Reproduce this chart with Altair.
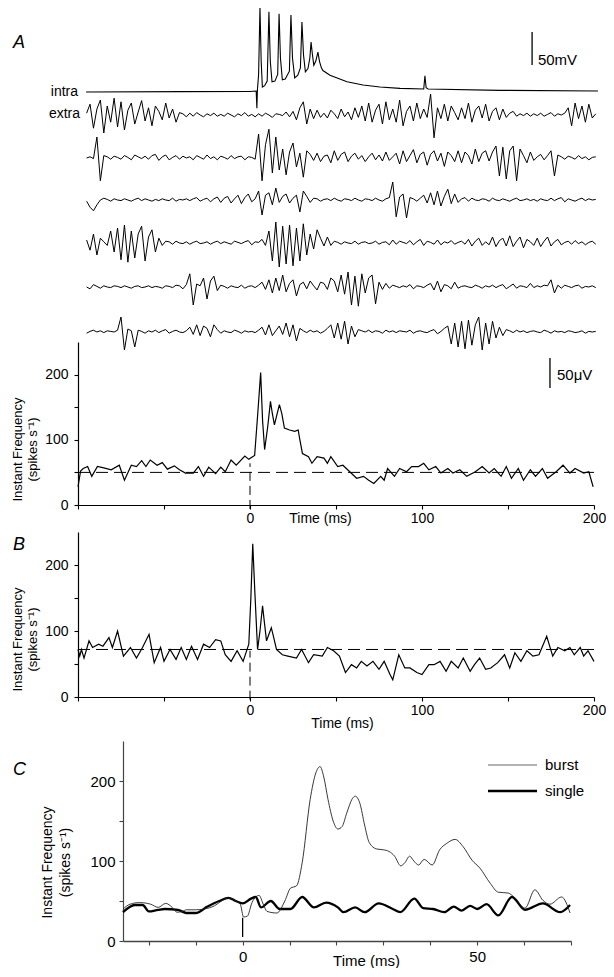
import altair as alt
import pandas as pd

FONT = "Liberation Sans"
W, H = 598, 960

# ---------------- intracellular trace (ms, mV) ----------------
intra_t = [-95.3, -40, 0, 3.6, 4.0, 4.3, 5.0, 5.8, 6.5, 7.2, 8.5, 10.0, 11.0, 11.8, 12.8, 14.5,
           16.1, 16.9, 17.7, 18.8, 20.5, 22.9, 23.8, 24.7, 26.0, 27.8, 29.3, 30.2, 31.1, 32.2,
           33.7, 34.8, 35.5, 36.3, 37.1, 38.2, 39.5, 40.4, 41.5, 42.4, 46.5, 56.4, 65.7, 75.6,
           87.2, 101.0, 101.7, 102.4, 103.5, 145, 202.3]
intra_mv = [-66.5, -66, -65.8, -65, -91, -64, -40, 62, -20, -59, -57, -50, 55, -20, -51, -50,
            -40, 52, -15, -48, -47, -35, 50, -15, -45, -41, -30, 39.5, -10, -36,
            -31, -15, 9, -10, -26, -20, -6, -20, -30, -34, -41, -51, -56, -59,
            -61, -62, -42, -60, -62, -64, -65]

# ---------------- extracellular traces (uV), sampled every 2 ms from -95 ms ----------------
extra_t = [-95 + 2 * k for k in range(149)]
extra1 = [3, 18, -22, 10, 25, -30, 15, -12, 28, -20,
          22, -25, 8, 20, -15, 5, 24, -10, 12, -18,
          15, 6, -8, 20, -5, 10, -12, 4, 2, -3,
          3, -2, 4, 0, -3, 2, -1, 3, -2, 1,
          -2, 3, 0, -3, 2, -1, 4, -2, 1, -3,
          2, -2, 3, 0, -4, 2, 1, -1, 5, -3,
          6, -8, 12, 22, -15, 10, -6, 8, -4, 3,
          -5, 8, 2, -6, 10, -3, 5, -8, 12, -4,
          15, -10, 20, -12, 8, 18, -15, 22, -8, 10,
          -12, 25, -18, 6, 15, -10, 20, -6, 10, -4,
          35, -38, 12, -6, 18, -10, 15, 4, -8, 12,
          -6, 20, -12, 8, 15, -5, 18, -10, 6, 12,
          -8, 10, -4, 3, 6, -2, 2, -1, 3, -2,
          2, -1, 3, -2, 1, 4, -2, 2, 0, 3,
          12, -18, 20, -6, 15, -12, 18, -5, 2]
extra2 = [0, 2, -1, 35, -38, 4, 2, -2, 3, 1,
          -2, 4, 1, -3, 5, 2, -1, 3, -2, 4,
          6, -4, 2, 5, -3, 1, 4, -2, 3, 0,
          2, -3, 4, 1, -2, 5, -1, 2, -3, 3,
          1, -2, 4, -1, 2, 3, -3, 2, 1, -2,
          40, -38, 22, 48, -25, 35, -20, 15, -28, 10,
          25, -15, 8, -32, 12, 6, -4, 8, -6, 3,
          5, -8, 12, -4, 6, 10, -6, 3, 8, -2,
          4, -6, 2, 8, -3, 5, -5, 10, -4, 2,
          8, -10, 12, -6, 4, 14, -8, 6, 10, -12,
          6, 12, -5, 8, -14, 10, 4, -6, 12, -8,
          10, 4, -10, 15, -6, 8, 12, -5, 10, 20,
          -30, 18, -35, 12, 20, -38, 15, 4, -8, 10,
          -4, 2, 6, -3, 4, 12, -30, 5, 2, -2,
          3, 1, -2, 4, -1, 2, -3, 1, 2]
extra3 = [-2, -12, -18, -8, 0, 3, 1, -2, 2, 0,
          -1, 2, 0, -2, 1, 3, -1, 2, 0, -2,
          1, -1, 2, 0, -1, 3, -2, 1, 0, 2,
          -1, 2, 4, -2, 1, 3, -3, 2, 5, -4,
          3, 6, -5, 2, 8, -6, 4, 10, -3, 2,
          15, -25, 8, 12, -8, 20, -4, 6, 10, -5,
          3, 8, -20, 15, 6, -4, 3, 2, -2, 1,
          2, -1, 3, 0, -2, 2, 1, -1, 3, 0,
          -2, 2, 1, -1, 3, 0, -2, 2, 4, 30,
          -28, 5, 10, -30, 4, 2, -2, 3, 8, -5,
          12, -8, 15, -10, 6, 18, -6, 10, -4, 2,
          4, -2, 3, 0, -1, 2, 1, -2, 3, 0,
          -1, 2, 0, -2, 1, 3, -1, 0, 2, -1,
          1, -2, 2, 0, -1, 3, -1, 2, 4, -3,
          2, 0, -2, 1, 3, -1, 2, 0, 1]
extra4 = [5, -12, 15, -20, 8, 2, -4, 20, -15, 25,
          -28, 30, -32, 20, -25, 15, 28, -30, 10, 22,
          -15, 8, -4, 3, 2, -2, 3, 0, -1, 2,
          -2, 1, 3, -1, 0, 2, -2, 1, 3, -1,
          2, 0, -2, 3, 1, -1, 2, 4, -3, 2,
          1, 6, -4, 20, -30, 35, -40, 28, -35, 30,
          -38, 25, -30, 32, -20, 15, -10, 22, 8, -5,
          10, -4, 3, 1, -2, 2, 0, -1, 3, -2,
          1, 2, -1, 0, 3, -2, 1, 2, -3, 5,
          -2, 3, 1, -1, 4, -3, 2, 6, -4, 3,
          1, -2, 5, -3, 2, 0, 4, -2, 1, 3,
          -2, 6, -5, 3, 8, -4, 2, -3, 10, -6,
          4, 8, -5, 12, -6, 3, 10, -8, 6, 2,
          -4, 8, -6, 3, 10, -5, 2, 6, -3, 1,
          3, -2, 4, -1, 2, -3, 1, 3, -2]
extra5 = [0, -3, 4, 1, -2, 2, 0, -1, 2, 1,
          -1, 2, 0, -2, 1, 2, -1, 0, 2, -1,
          1, 0, -2, 2, 1, -1, 3, 2, -3, 4,
          22, -30, 5, 2, 15, -20, 10, 18, -6, 3,
          1, -2, 2, 0, -1, 3, -2, 1, 2, -1,
          3, 8, -4, 12, -10, 15, -6, 20, -8, 6,
          12, -15, 4, 8, -3, 10, 2, -5, 8, 6,
          -4, 15, 10, -8, 20, -12, 25, -30, 18, -32,
          22, -10, 15, 20, -28, 8, -4, 6, -2, 3,
          1, -1, 2, 0, 4, -3, 2, 1, -1, 3,
          6, -5, 10, -8, 4, 2, -3, 8, -2, 1,
          2, 0, -1, 3, 1, -2, 2, 0, 3, -1,
          2, 4, -3, 1, 5, -2, 2, 1, -1, 6,
          -1, 2, 0, 3, 2, 12, -10, 3, -2, 3,
          1, -1, 2, 3, -2, 1, 0, 2, -1]
extra6 = [-2, 1, 3, 0, 2, -1, 2, 1, 0, 3,
          25, -30, 5, 2, -25, 3, 1, -2, 2, 0,
          3, -1, 2, 4, -2, 1, 3, 0, -1, 2,
          8, -4, 12, -6, 10, 6, -8, 12, 4, -2,
          2, 0, -1, 3, 1, -2, 2, 0, 1, -1,
          3, 8, -5, 12, -6, 2, 10, -4, 15, -8,
          12, -15, 6, 2, -1, 3, 0, 2, -2, 1,
          6, 12, -10, 15, -12, 18, -20, 10, -8, 4,
          2, 0, 3, -1, 2, 1, -2, 3, 0, 2,
          -1, 2, 1, 0, 3, -2, 1, 2, 0, -1,
          2, 4, -3, 1, 6, 10, -20, 15, -25, 18,
          -28, 20, -22, 12, 25, -30, 15, -20, 18, -10,
          8, -6, 4, 2, -1, 3, 0, 2, -1, 1,
          2, 0, -1, 3, 1, -2, 2, 0, 1, -1,
          2, 1, -1, 0, 2, -2, 1, 0, 1]
extra_rows = [extra1, extra2, extra3, extra4, extra5, extra6]

# ---------------- panel A instant frequency ----------------
freqA_t = [-100, -98.5, -97, -94.4, -92, -88.7, -85, -80.7, -76, -73,
           -69, -66, -63, -60.5, -58, -54, -51, -48, -44, -41,
           -37.5, -33, -30, -27, -24, -20, -17, -14.4, -11, -8,
           -3, -0.7, 1.5, 2.7, 4.5, 6.2, 7.3, 8.5, 10.3, 11.9,
           13, 14.2, 15.8, 17.1, 18.5, 20, 23, 26, 28, 29,
           30.5, 34, 36, 39, 43, 45, 47, 51, 54, 58,
           62, 66, 69, 72, 76, 78, 80, 84, 87, 91,
           94, 98, 101, 104, 108, 111, 115, 118, 122, 126,
           131, 135, 139, 142, 146, 149, 152, 156, 159, 163,
           166, 170, 173, 178, 182, 186, 189, 194, 197, 199.5]
freqA_v = [28, 52, 56, 59, 44, 59, 57, 54, 61, 38,
           61, 59, 68, 59, 69, 61, 65, 55, 60, 54,
           49, 49, 59, 44, 58, 48, 58, 51, 69, 61,
           75, 70, 74, 76, 140, 203, 130, 85, 120, 159,
           140, 123, 140, 154, 140, 118, 115, 113, 115, 100,
           79, 74, 64, 74, 72, 64, 74, 59, 61, 51,
           41, 44, 38, 33, 44, 38, 56, 44, 56, 51,
           59, 59, 64, 54, 59, 49, 56, 49, 54, 44,
           51, 59, 49, 56, 44, 59, 41, 56, 38, 54,
           44, 56, 41, 51, 61, 49, 56, 49, 51, 28]

# ---------------- panel B instant frequency ----------------
freqB_t = [-100, -99, -98, -96.5, -93.6, -91.5, -88, -85.5, -82, -80,
           -77, -73.6, -69.5, -66, -62.5, -58.7, -55.7, -52, -50, -46.5,
           -43, -40, -37, -34, -30.5, -27, -23.5, -20, -17, -14.4,
           -11, -7.5, -4, -0.7, 0.5, 1.6, 2.8, 4.4, 5.8, 7.3,
           8.5, 9.6, 11, 12.4, 13.8, 15.4, 18.8, 22, 27, 30,
           34, 37, 42, 45, 48.6, 52, 55.5, 59, 62, 64.7,
           68, 71.5, 75, 78, 81.4, 83, 86.5, 90, 93, 97,
           100, 104, 107, 110.5, 114, 117, 121, 124, 128, 130.5,
           133.5, 137, 140, 144, 148, 151, 154, 157.5, 161, 164.5,
           168, 172.5, 176, 179, 183, 186, 188.5, 192, 194, 196.5,
           200]
freqB_v = [72, 62, 72, 59, 85, 75, 80, 77, 90, 75,
           100, 62, 75, 59, 75, 95, 52, 75, 54, 72,
           57, 75, 57, 77, 57, 80, 75, 87, 85, 64,
           54, 70, 54, 80, 150, 232, 160, 72, 100, 138,
           110, 85, 95, 105, 90, 72, 64, 62, 59, 72,
           52, 64, 62, 75, 70, 62, 37, 49, 44, 54,
           47, 54, 42, 54, 34, 26, 64, 44, 44, 37,
           34, 49, 49, 54, 39, 54, 44, 59, 39, 49,
           59, 42, 44, 52, 64, 44, 67, 54, 70, 62,
           64, 92, 62, 75, 70, 75, 64, 75, 62, 70,
           54]

# ---------------- panel C ----------------
burst_t = [-25.5, -24, -22, -19.6, -18, -16.4, -15, -14, -12.8, -12,
           -10, -8.2, -6, -4.5, -3, -1.5, -0.5, 0.2, 1, 2,
           2.8, 3.5, 4.4, 5.2, 7.3, 9, 10.2, 11.5, 12.7, 14.4,
           15.6, 16.5, 17.3, 18.2, 19.3, 20.3, 21.2, 22.2, 23.4, 24,
           25, 26, 27, 28.6, 30, 31.2, 32.4, 33.7, 34.6, 35.6,
           36.5, 37.5, 38.7, 40.4, 42, 43.5, 45.3, 47, 48.9, 50.6,
           52.8, 54.5, 56.6, 58, 60.2, 62.3, 64, 65.5, 68, 69.8]
burst_v = [40, 46, 48, 46, 42, 47, 42, 36, 37, 39,
           39, 40, 44, 50, 54, 50, 46, 30, 31, 48,
           55, 57, 46, 37, 35, 50, 66, 69, 98, 177,
           210, 218, 205, 177, 150, 140, 143, 160, 178, 181,
           172, 145, 123, 115, 114, 112, 106, 94, 98, 106,
           100, 95, 102, 95, 114, 122, 127, 118, 101, 91,
           72, 61, 60, 54, 41, 64, 51, 46, 55, 35]
single_t = [-25.5, -23, -21.3, -20, -18, -16.6, -13.8, -12, -10, -7.5,
            -5, -3, -1.5, 0, 1.8, 2.8, 3.9, 6, 7.9, 10.2,
            12.7, 15.2, 17.8, 20.3, 21.5, 24, 26, 29, 32, 33.6,
            36.6, 38.5, 40.6, 43, 45, 46.7, 48.5, 50, 52, 54.5,
            57.4, 60.2, 64, 67.7, 69.8]
single_v = [36, 45, 45, 37, 39, 40, 39, 35, 35, 43,
            50, 54, 50, 47, 53, 55, 42, 50, 40, 40,
            55, 42, 48, 42, 36, 42, 36, 47, 40, 36,
            53, 41, 40, 36, 43, 38, 44, 40, 46, 32,
            55, 39, 47, 36, 45]

# reference lines / scale bars (data units)
BASE_A = 50
BASE_B = 72
ZERO_A = [-6, 64]
ZERO_B = [-4, 70]
ZERO_C = [5, 29]
MV_BAR_T, MV_BAR = 164.0, [-25.6, 24.4]
MV_TXT_T, MV_TXT_Y = 167.4, -18.0
UV_BAR_T, UV_BAR = 174.4, [-93.3, -43.3]
UV_TXT_T, UV_TXT_Y = 178.5, -71.7

# ---------------- layout (pixel ranges in chart coordinates) ----------------
X_AB_DOMAIN, X_AB_RANGE = [-100, 200], [70, 586]
Y_INTRA_DOMAIN, Y_INTRA_RANGE = [-100, 60], [106.1, 0.5]
EXTRA_BASES = [107, 150, 192, 235, 279, 324]
Y_F_DOMAIN = [0, 250]
Y_A_RANGE = [497, 334]
Y_B_RANGE = [689, 524]
X_C_DOMAIN, X_C_RANGE = [-25.5, 70], [115, 563]
Y_C_RANGE = [933, 733]


def sc(domain, rng):
    return alt.Scale(domain=domain, range=rng, nice=False, zero=False)


def xab():
    return sc(X_AB_DOMAIN, X_AB_RANGE)


def line_layer(ts, vs, xs, ys, xaxis=None, yaxis=None, **mk):
    df = pd.DataFrame({"t": ts, "v": vs})
    return alt.Chart(df).mark_line(**mk).encode(
        x=alt.X("t:Q", scale=xs, axis=xaxis),
        y=alt.Y("v:Q", scale=ys, axis=yaxis),
    )


def vrule(t, y0, y1, xs, ys, **mk):
    df = pd.DataFrame({"t": [t], "y0": [y0], "y1": [y1]})
    return alt.Chart(df).mark_rule(**mk).encode(
        x=alt.X("t:Q", scale=xs, axis=None),
        y=alt.Y("y0:Q", scale=ys, axis=None),
        y2="y1:Q",
    )


def hrule(v, t0, t1, xs, ys, **mk):
    df = pd.DataFrame({"v": [v], "t0": [t0], "t1": [t1]})
    return alt.Chart(df).mark_rule(**mk).encode(
        x=alt.X("t0:Q", scale=xs, axis=None),
        x2="t1:Q",
        y=alt.Y("v:Q", scale=ys, axis=None),
    )


def data_text(t, v, txt, xs, ys, **mk):
    df = pd.DataFrame({"t": [t], "v": [v]})
    return alt.Chart(df).mark_text(**mk).encode(
        x=alt.X("t:Q", scale=xs, axis=None),
        y=alt.Y("v:Q", scale=ys, axis=None),
        text=alt.value(txt),
    )


def px_text(x, y, txt, **mk):
    return alt.Chart(alt.Data(values=[{}])).mark_text(font=FONT, color="black", **mk).encode(
        x=alt.value(x), y=alt.value(y), text=alt.value(txt))


AX = dict(domainColor="black", tickColor="black", labelColor="black", titleColor="black",
          labelFont=FONT, titleFont=FONT, titleFontWeight="normal", grid=False,
          domainWidth=1.2, tickWidth=1.1, tickSize=4, labelFlush=False, labelOverlap=False)
Y_TITLE = ["Instant  Frequency", "(spikes s\u207b\u00b9)"]
X_LABELS_AB = "datum.value >= 0 && datum.value % 100 === 0 ? datum.label : ''"
Y_LABELS = "datum.value % 100 === 0 ? datum.label : ''"


def x_axis_ab(axis_y, title_x, title_y):
    return alt.Axis(orient="bottom", offset=axis_y - H, values=[-100, -50, 0, 50, 100, 150, 200],
                    labelExpr=X_LABELS_AB, labelFontSize=14, labelPadding=2,
                    title="Time (ms)", titleFontSize=14, titleX=title_x, titleY=title_y,
                    titleAlign="center", titleBaseline="middle", **AX)


def y_axis(offset, title_x, title_y, label_size=14, title_size=13, lh=15, pad=6, color="black"):
    ax = {**AX, "domainColor": color, "tickColor": color}
    return alt.Axis(orient="left", offset=offset, values=[0, 50, 100, 150, 200],
                    labelExpr=Y_LABELS, labelFontSize=label_size, labelPadding=pad,
                    title=Y_TITLE, titleFontSize=title_size, titleX=title_x, titleY=title_y,
                    titleAngle=270, titleAlign="center", titleBaseline="middle",
                    titleLineHeight=lh, **ax)


layers = []

# --- traces ---
y_intra = lambda: sc(Y_INTRA_DOMAIN, Y_INTRA_RANGE)
layers.append(line_layer(intra_t, intra_mv, xab(), y_intra(), color="black", strokeWidth=1.1))
layers.append(vrule(MV_BAR_T, MV_BAR[0], MV_BAR[1], xab(), y_intra(), color="black", strokeWidth=1.3))
layers.append(data_text(MV_TXT_T, MV_TXT_Y, "50mV", xab(), y_intra(), font=FONT, fontSize=15,
                        align="left", baseline="middle", color="black"))

for row, base in zip(extra_rows, EXTRA_BASES):
    ys = sc([-50, 50], [base + 30, base - 30])
    layers.append(line_layer(extra_t, row, xab(), ys, color="black", strokeWidth=1.0))

ys6 = sc([-50, 50], [EXTRA_BASES[5] + 30, EXTRA_BASES[5] - 30])
layers.append(vrule(UV_BAR_T, UV_BAR[0], UV_BAR[1], xab(), ys6, color="black", strokeWidth=1.3))
layers.append(data_text(UV_TXT_T, UV_TXT_Y, "50\u03bcV", xab(), ys6, font=FONT, fontSize=15,
                        align="left", baseline="middle", color="black"))

# --- panel A frequency ---
yA = lambda: sc(Y_F_DOMAIN, Y_A_RANGE)
layers.append(hrule(BASE_A, -100, 200, xab(), yA(), color="black", strokeWidth=1, strokeDash=[12, 6]))
layers.append(vrule(0, ZERO_A[0], ZERO_A[1], xab(), yA(), color="black", strokeWidth=1, strokeDash=[9, 5]))
layers.append(line_layer(freqA_t, freqA_v, xab(), yA(),
                         xaxis=x_axis_ab(Y_A_RANGE[0], 320 - 8, 13),
                         yaxis=y_axis(-X_AB_RANGE[0], -61, 441),
                         color="black", strokeWidth=1.2))

# --- panel B frequency ---
yB = lambda: sc(Y_F_DOMAIN, Y_B_RANGE)
layers.append(hrule(BASE_B, -100, 200, xab(), yB(), color="black", strokeWidth=1, strokeDash=[12, 6]))
layers.append(vrule(0, ZERO_B[0], ZERO_B[1], xab(), yB(), color="black", strokeWidth=1, strokeDash=[9, 5]))
layers.append(line_layer(freqB_t, freqB_v, xab(), yB(),
                         xaxis=x_axis_ab(Y_B_RANGE[0], 342 - 8, 26),
                         yaxis=y_axis(-X_AB_RANGE[0], -61, 631),
                         color="black", strokeWidth=1.2))

# --- panel C ---
xC = lambda: sc(X_C_DOMAIN, X_C_RANGE)
yC = lambda: sc(Y_F_DOMAIN, Y_C_RANGE)
x_axis_c = alt.Axis(orient="bottom", offset=Y_C_RANGE[0] - H, values=[-20, -10, 0, 10, 20, 30, 40, 50, 60, 70],
                    labelExpr="datum.value % 50 === 0 ? datum.label : ''", labelFontSize=15,
                    labelPadding=4, title="Time (ms)", titleFontSize=15, titleX=366 - 8, titleY=19,
                    titleAlign="center", titleBaseline="middle",
                    **{**AX, "domainColor": "#444", "tickColor": "#444", "domainWidth": 1.6})
y_axis_c = y_axis(-X_C_RANGE[0], -76, 854, label_size=15, title_size=14, lh=18, pad=4, color="#444")
layers.append(vrule(0, ZERO_C[0], ZERO_C[1], xC(), yC(), color="black", strokeWidth=1.3))
layers.append(line_layer(single_t, single_v, xC(), yC(), color="black", strokeWidth=2.3,
                         interpolate="monotone"))
layers.append(line_layer(burst_t, burst_v, xC(), yC(), xaxis=x_axis_c, yaxis=y_axis_c,
                         color="#222", strokeWidth=0.9, interpolate="monotone"))

# legend of panel C
layers.append(alt.Chart(alt.Data(values=[{}])).mark_rule(color="#666", strokeWidth=1).encode(
    x=alt.value(480), x2=alt.value(529), y=alt.value(757)))
layers.append(alt.Chart(alt.Data(values=[{}])).mark_rule(color="black", strokeWidth=2.6).encode(
    x=alt.value(480), x2=alt.value(529), y=alt.value(783)))
layers.append(px_text(537, 757, "burst", fontSize=15, align="left", baseline="middle"))
layers.append(px_text(537, 783, "single", fontSize=15, align="left", baseline="middle"))

# panel letters and trace labels
layers.append(px_text(5, 35, "A", fontSize=18, fontStyle="italic", align="left", baseline="middle"))
layers.append(px_text(5, 537, "B", fontSize=18, fontStyle="italic", align="left", baseline="middle"))
layers.append(px_text(5, 762, "C", fontSize=18, fontStyle="italic", align="left", baseline="middle"))
layers.append(px_text(70, 84, "intra", fontSize=14, align="right", baseline="middle"))
layers.append(px_text(72, 106, "extra", fontSize=14, align="right", baseline="middle"))

chart = alt.layer(*layers).resolve_scale(x="independent", y="independent").properties(
    width=W, height=H, padding=0, autosize=alt.AutoSizeParams(type="none"), background="white"
).configure_view(strokeWidth=0)

chart.save("out.html", embed_options={"renderer": "svg", "actions": False})
